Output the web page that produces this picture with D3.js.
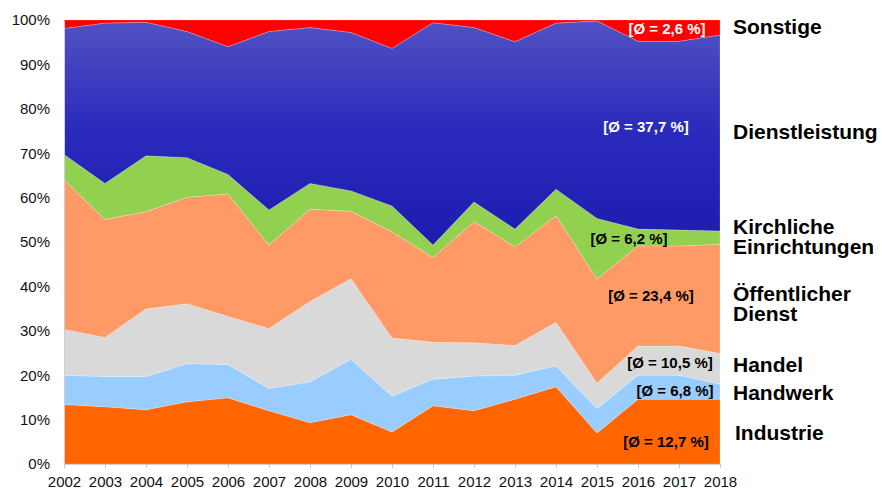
<!DOCTYPE html>
<html><head><meta charset="utf-8">
<script src="https://cdn.jsdelivr.net/npm/d3@7/dist/d3.min.js"></script>
<style>body{margin:0;background:#fff}svg{display:block}text{font-family:"Liberation Sans",Arial,sans-serif}</style>
</head><body><svg id="c" width="882" height="490"></svg>
<script>
const years = [2002,2003,2004,2005,2006,2007,2008,2009,2010,2011,2012,2013,2014,2015,2016,2017,2018];
const industrie      = [13.4,12.9,12.2,14.0,14.9,12.0, 9.3,11.1, 7.2,13.1,12.0,14.6,17.4, 7.0,14.6,14.6,14.6];
const handwerk       = [ 6.6, 6.8, 7.5, 8.6, 7.5, 5.0, 9.2,12.5, 8.1, 6.0, 7.8, 5.4, 4.7, 5.5, 5.4, 5.4, 3.4];
const handel         = [10.3, 8.8,15.2,13.5,10.8,13.5,18.1,18.1,13.1, 8.3, 7.5, 6.7, 9.8, 5.7, 6.6, 6.6, 6.9];
const oeffentlich    = [33.7,26.6,21.9,24.0,27.6,18.8,20.8,15.2,23.9,19.1,27.3,22.2,24.0,23.5,22.5,22.5,24.6];
const kirchlich      = [ 5.7, 8.1,12.6, 8.9, 4.4, 7.9, 5.8, 4.6, 5.8, 2.8, 4.4, 4.0, 6.0,13.6, 3.8, 3.6, 3.0];
const dienstleistung = [28.4,36.1,30.1,28.4,28.8,40.2,35.1,35.7,35.5,50.1,39.3,42.2,37.4,44.5,42.3,42.5,44.1];
const sonstige       = [ 1.9, 0.7, 0.5, 2.6, 6.0, 2.6, 1.7, 2.8, 6.4, 0.6, 1.7, 4.9, 0.7, 0.2, 4.8, 4.8, 3.4];
const yTicks = [0,10,20,30,40,50,60,70,80,90,100];
const seriesNames = ["Industrie","Handwerk","Handel","Öffentlicher Dienst","Kirchliche Einrichtungen","Dienstleistung","Sonstige"];
const averages = ["[Ø = 12,7 %]","[Ø = 6,8 %]","[Ø = 10,5 %]","[Ø = 23,4 %]","[Ø = 6,2 %]","[Ø = 37,7 %]","[Ø = 2,6 %]"];

const seriesArrays = [industrie,handwerk,handel,oeffentlich,kirchlich,dienstleistung,sonstige];
const colors = ["#FF6600","#99CCFF","#D9D9D9","#FF9966","#92D050","url(#gBlue)","#FF0000"];

const svg = d3.select("#c");
const m = {l:64, r:162, t:20, b:26};
const W = 882, H = 490;
const x = d3.scalePoint().domain(years).range([m.l, W - m.r]);
const y = d3.scaleLinear().domain([0,100]).range([H - m.b, m.t]);

const defs = svg.append("defs");
const g = defs.append("linearGradient").attr("id","gBlue").attr("gradientUnits","userSpaceOnUse")
  .attr("x1",0).attr("x2",0).attr("y1",y(100)).attr("y2",y(50));
g.append("stop").attr("offset","0%").attr("stop-color","#5252C2");
g.append("stop").attr("offset","50%").attr("stop-color","#2A2ABC");
g.append("stop").attr("offset","100%").attr("stop-color","#1C1CAE");

const rows = years.map((yr,i)=>{const o={year:yr}; seriesNames.forEach((n,k)=>o[n]=seriesArrays[k][i]); return o;});
const stack = d3.stack().keys(seriesNames).offset(d3.stackOffsetExpand);
const layers = stack(rows);
const yp = d3.scaleLinear().domain([0,1]).range([H - m.b, m.t]);
const area = d3.area().x(d=>x(d.data.year)).y0(d=>yp(d[0])).y1(d=>yp(d[1]));

svg.append("g").selectAll("path").data(layers).join("path")
  .attr("d",area).attr("fill",(d,i)=>colors[i])
  .attr("stroke","rgba(255,255,255,0.35)").attr("stroke-width",0.6);

// axes
const xAxis = svg.append("g").attr("transform",`translate(0,${H-m.b})`)
  .call(d3.axisBottom(x).tickSize(4).tickPadding(8));
xAxis.select(".domain").attr("stroke","#d0d0d0");
xAxis.selectAll(".tick line").attr("stroke","#c8c8c8");
xAxis.selectAll("text").attr("font-size",15).attr("fill","#111");

const yAxis = svg.append("g").attr("transform",`translate(${m.l},0)`)
  .call(d3.axisLeft(y).tickValues(yTicks).tickFormat(d=>d+"%").tickSize(0).tickPadding(14));
yAxis.select(".domain").attr("stroke","#d0d0d0");
yAxis.selectAll("text").attr("font-size",15).attr("fill","#111");

// right labels
const rl = [
  {lines:["Sonstige"], y:34, x:733},
  {lines:["Dienstleistung"], y:139, x:733},
  {lines:["Kirchliche","Einrichtungen"], y:234, x:733},
  {lines:["Öffentlicher","Dienst"], y:301, x:733},
  {lines:["Handel"], y:372, x:733},
  {lines:["Handwerk"], y:400, x:733},
  {lines:["Industrie"], y:440, x:735}
];
rl.forEach(r=>{
  const t = svg.append("text").attr("x",r.x).attr("y",r.y).attr("font-size",21).attr("font-weight","bold").attr("fill","#000");
  r.lines.forEach((l,i)=>t.append("tspan").attr("x",r.x).attr("dy",i?20:0).text(l));
});

// average labels
const al = [
  {i:0, x:666, y:447, c:"#000"},
  {i:1, x:675, y:396, c:"#000"},
  {i:2, x:670, y:368, c:"#000"},
  {i:3, x:651, y:301, c:"#000"},
  {i:4, x:629, y:244, c:"#000"},
  {i:5, x:646, y:132, c:"#fff"},
  {i:6, x:667, y:34, c:"#fff"}
];
al.forEach(a=>svg.append("text").attr("x",a.x).attr("y",a.y).attr("text-anchor","middle")
  .attr("font-size",15).attr("font-weight","bold").attr("fill",a.c).text(averages[a.i]));
</script></body></html>
